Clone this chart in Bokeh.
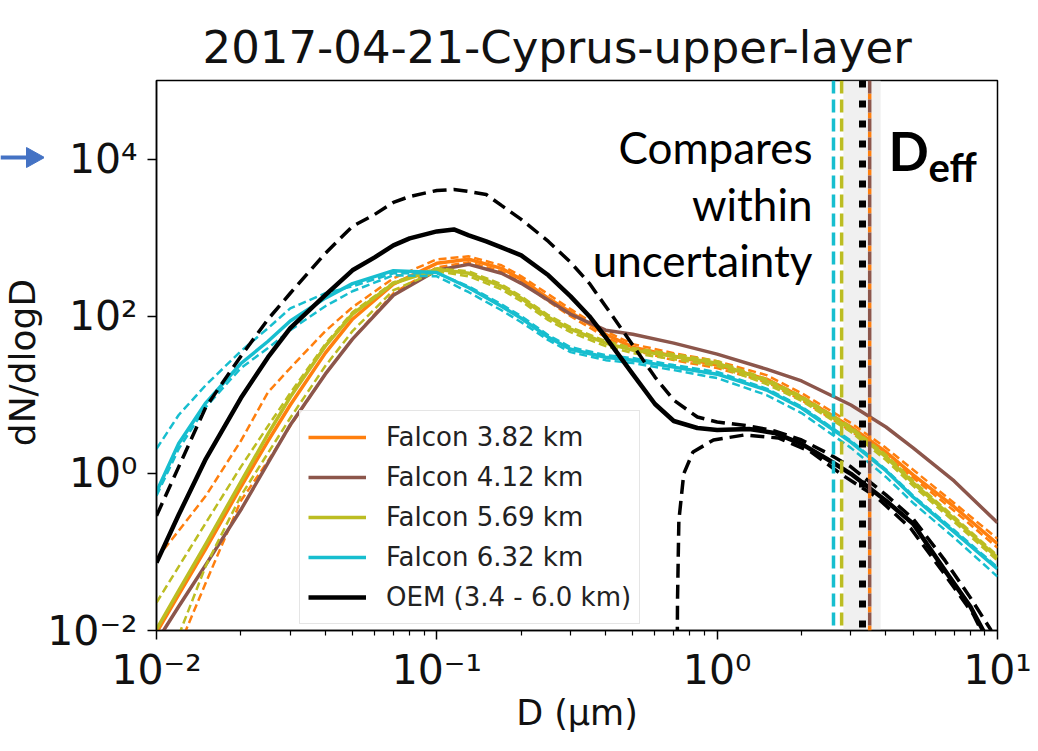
from math import pi
from bokeh.plotting import figure
from bokeh.layouts import row
from bokeh.models import (Range1d, FixedTicker, CustomJSTickFormatter, Label, Span,
                          BoxAnnotation, Legend, LegendItem, Title)
from bokeh.embed import file_html
from bokeh.resources import INLINE

# ---------------- data ----------------
D_falcon = [0.01, 0.012, 0.015, 0.02, 0.025, 0.03, 0.04, 0.05, 0.07, 0.1, 0.13, 0.17,
            0.2, 0.25, 0.3, 0.4, 0.5, 0.7, 1.0, 1.5, 2.0, 3.0, 4.0, 5.0, 7.0, 10.0]

orange_solid = [0.0094, 0.0286, 0.11, 0.675, 2.59, 7.41, 33.9, 91.6, 255, 471, 530, 407,
                295, 169, 112, 59.0, 40.4, 31.0, 23.9, 15.8, 9.36, 3.89, 1.87, 0.957, 0.376, 0.127]
orange_upper = [0.082, 0.186, 0.518, 2.59, 10.8, 21.9, 64.6, 130, 304, 530, 578, 445,
                322, 190, 123, 64.6, 44.1, 33.9, 26.8, 17.8, 10.5, 4.38, 2.11, 1.11, 0.42, 0.147]
orange_lower = [0.00129, 0.00608, 0.0407, 0.448, 1.44, 4.01, 18.3, 51.1, 196, 419, 485, 373,
                270, 155, 100, 54.1, 37.0, 27.6, 21.9, 14.5, 8.57, 3.47, 1.67, 0.877, 0.334, 0.113]

brown_solid = [0.0072, 0.0202, 0.0689, 0.344, 1.36, 4.13, 18.3, 51.1, 185, 384, 457, 352,
               262, 160, 106, 66.4, 59.0, 45.4, 32.9, 21.2, 15.0, 7.41, 3.89, 2.11, 0.80, 0.235]

olive_solid = [0.0103, 0.0322, 0.127, 0.78, 3.18, 9.36, 41.6, 106, 262, 395, 352, 240,
               169, 97, 68.4, 45.4, 37.0, 31.0, 25.3, 15.0, 9.1, 3.67, 1.62, 0.757, 0.264, 0.0845]
olive_upper = [0.0227, 0.065, 0.235, 1.21, 4.01, 10.5, 44.1, 112, 270, 407, 373, 255,
               179, 103, 72.5, 48.2, 39.3, 32.9, 26.8, 15.8, 9.64, 3.89, 1.72, 0.80, 0.281, 0.0895]
olive_lower = [0.00173, 0.00865, 0.0668, 0.518, 1.82, 5.07, 23.2, 64.6, 214, 373, 322, 220,
               155, 88.9, 62.7, 41.6, 33.9, 28.4, 23.2, 13.7, 8.34, 3.37, 1.48, 0.693, 0.242, 0.0775]

cyan_solid = [0.58, 2.4, 7.9, 25, 48, 87, 170, 260, 380, 360, 230, 134,
              94, 54, 38, 30, 27.6, 22.5, 18.3, 11.5, 6.8, 2.5, 1.08, 0.50, 0.18, 0.061]
cyan_upper = [2.05, 5.53, 13.3, 36.0, 70.5, 126, 196, 240, 352, 352, 240, 142,
              100, 57.4, 40.4, 32.0, 29.3, 23.9, 19.5, 12.0, 7.1, 2.6, 1.12, 0.52, 0.19, 0.064]
cyan_lower = [0.52, 2.05, 6.99, 21.9, 39.3, 66.4, 134, 208, 332, 322, 202, 119,
              83.9, 49.5, 34.9, 27.6, 25.3, 20.6, 16.3, 9.93, 5.86, 2.11, 0.90, 0.42, 0.152, 0.0485]

D_oem = [0.01, 0.012, 0.015, 0.02, 0.025, 0.03, 0.04, 0.05, 0.06, 0.07, 0.08, 0.1, 0.115,
         0.13, 0.15, 0.17, 0.2, 0.25, 0.3, 0.35, 0.4, 0.5, 0.6, 0.7, 0.85, 1.0, 1.3, 1.6,
         2.0, 2.5, 3.0, 4.0, 5.0, 6.5, 8.0, 9.5]
oem_solid = [0.073, 0.297, 1.53, 9.1, 30.1, 70.5, 185, 384, 561, 798, 977, 1200, 1273,
             1069, 895, 752, 595, 332, 179, 100, 54.1, 18.3, 7.63, 4.64, 3.78, 3.57, 3.67,
             3.27, 2.37, 1.48, 0.987, 0.448, 0.229, 0.0578, 0.0202, 0.0064]
oem_upper = [0.288, 1.21, 6.99, 31.0, 91.6, 196, 631, 1390, 1973, 2805, 3342, 3981, 4102,
             3864, 3540, 2570, 1706, 895, 485, 262, 134, 42.8, 16.8, 8.57, 5.21, 4.51, 4.01,
             3.47, 2.66, 1.77, 1.21, 0.533, 0.264, 0.0775, 0.0262, 0.01]
D_oem_lower = [0.72, 0.722, 0.73, 0.76, 0.82, 0.97, 1.25, 1.65, 2.15, 2.8, 3.7, 4.9, 6.4, 8.2, 9.5]
oem_lower = [0.004, 0.024, 0.25, 0.99, 1.87, 2.66, 3.08, 2.82, 1.9, 0.95, 0.50, 0.20,
             0.055, 0.016, 0.0055]

# effective diameters (µm) and OEM uncertainty band
deff_names = ["Falcon 6.32 km", "Falcon 5.69 km", "OEM", "Falcon 3.82 km", "Falcon 4.12 km"]
deff_values = [2.60, 2.78, 3.30, 3.50, 3.50]
deff_band = [2.82, 3.83]

legend_labels = ["Falcon 3.82 km", "Falcon 4.12 km", "Falcon 5.69 km", "Falcon 6.32 km",
                 "OEM (3.4 - 6.0 km)"]
x_major = [0.01, 0.1, 1, 10]
x_minor = [k * d for d in (0.01, 0.1, 1) for k in range(2, 10)]
y_major = [0.01, 1, 100, 1e4]

ORANGE, BROWN, OLIVE, CYAN, BLACK = "#ff7f0e", "#8c564b", "#bcbd22", "#17becf", "#000000"
ARROW_BLUE = "#4472C4"

W, H = 1038, 751
SIDE_W = 44
TOP, BOTTOM = 80, 121

# ---------------- main figure ----------------
p = figure(width=W - SIDE_W, height=H, x_axis_type="log", y_axis_type="log",
           x_range=Range1d(0.01, 10), y_range=Range1d(0.01, 1e5),
           min_border_left=156 - SIDE_W, min_border_right=41, min_border_top=TOP,
           min_border_bottom=BOTTOM, toolbar_location=None, output_backend="svg")
p.grid.visible = False
p.outline_line_color = "black"
p.outline_line_width = 1.5
p.outline_line_alpha = 1.0
p.background_fill_color = "white"
p.border_fill_color = "white"

# the default title panel (closest to the frame) is used as a small spacer
p.title.text = " "
p.title.text_font_size = "1px"
p.title.standoff = 10
# the real title, stacked above the spacer
p.add_layout(Title(text="2017-04-21-Cyprus-upper-layer", text_font="DejaVu Sans",
                   text_font_size="45px", text_font_style="normal", text_color="#111111",
                   align="left", offset=46, vertical_align="top", standoff=10), "above")

fmt = CustomJSTickFormatter(code="""
const e = Math.round(Math.log10(tick));
const sup = {'-':'\u207b','0':'\u2070','1':'\u00b9','2':'\u00b2','3':'\u00b3','4':'\u2074',
             '5':'\u2075','6':'\u2076','7':'\u2077','8':'\u2078','9':'\u2079'};
return '10' + String(e).split('').map(c => sup[c]).join('');
""")

p.xaxis.ticker = FixedTicker(ticks=x_major, minor_ticks=x_minor)
p.yaxis.ticker = FixedTicker(ticks=y_major, minor_ticks=[])
for ax in (p.xaxis[0], p.yaxis[0]):
    ax.formatter = fmt
    ax.major_label_text_font = "DejaVu Sans"
    ax.major_label_text_font_size = "41px"
    ax.major_label_text_color = "#111111"
    ax.axis_line_color = "black"
    ax.axis_line_width = 1.5
    ax.major_tick_line_color = "black"
    ax.major_tick_line_width = 1.5
    ax.minor_tick_line_color = "black"
    ax.minor_tick_line_width = 1.2
    ax.major_tick_out = 9
    ax.major_tick_in = 0
    ax.minor_tick_out = 5
    ax.minor_tick_in = 0
p.xaxis.major_label_standoff = 6
p.yaxis.major_label_standoff = 10

p.xaxis.axis_label = "D (µm)"
p.xaxis.axis_label_text_font = "DejaVu Sans"
p.xaxis.axis_label_text_font_size = "35px"
p.xaxis.axis_label_text_font_style = "normal"
p.xaxis.axis_label_text_color = "#111111"
p.xaxis.axis_label_standoff = -4

# uncertainty band for D_eff
p.add_layout(BoxAnnotation(left=deff_band[0], right=deff_band[1], fill_color="#e6e6e6",
                           fill_alpha=0.6, line_color=None, level="underlay"))

# ---------------- curves ----------------
DASH_C = "8 4"
def falcon(color, solid, upper=None, lower=None):
    if upper is not None:
        p.line(D_falcon, upper, line_color=color, line_width=2.5, line_dash=DASH_C)
    if lower is not None:
        p.line(D_falcon, lower, line_color=color, line_width=2.5, line_dash=DASH_C)
    return p.line(D_falcon, solid, line_color=color, line_width=3.5, line_join="round")

r_orange = falcon(ORANGE, orange_solid, orange_upper, orange_lower)
r_brown = falcon(BROWN, brown_solid)
r_olive = falcon(OLIVE, olive_solid, olive_upper, olive_lower)
r_cyan = falcon(CYAN, cyan_solid, cyan_upper, cyan_lower)

p.line(D_oem, oem_upper, line_color=BLACK, line_width=3.5, line_dash="14 7")
p.line(D_oem_lower, oem_lower, line_color=BLACK, line_width=3.5, line_dash="14 7")
r_oem = p.line(D_oem, oem_solid, line_color=BLACK, line_width=4.5, line_join="round")

# ---------------- D_eff vertical lines ----------------
span_style = {
    "Falcon 6.32 km": dict(line_color=CYAN, line_dash="13 6", line_width=3.5),
    "Falcon 5.69 km": dict(line_color=OLIVE, line_dash="13 6", line_width=3.5),
    "OEM": dict(line_color=BLACK, line_dash="7 13", line_width=7),
    "Falcon 3.82 km": dict(line_color=ORANGE, line_dash="6 13", line_dash_offset=6, line_width=3.5),
    "Falcon 4.12 km": dict(line_color=BROWN, line_dash="13 6", line_width=3.5),
}
for name, loc in zip(deff_names, deff_values):
    p.add_layout(Span(location=loc, dimension="height", **span_style[name]))

# ---------------- legend ----------------
legend = Legend(items=[LegendItem(label=l, renderers=[r]) for l, r in
                       zip(legend_labels, [r_orange, r_brown, r_olive, r_cyan, r_oem])],
                location=(143, 6), label_text_font="DejaVu Sans", label_text_font_size="26px",
                label_text_color="#222222", glyph_width=58, glyph_height=36, label_height=36,
                spacing=4, padding=8, label_standoff=20, border_line_color="#cccccc",
                border_line_width=1.5, background_fill_color="white",
                background_fill_alpha=0.85, margin=0)
p.add_layout(legend)

# ---------------- text annotations inside the frame ----------------
def lab(fig, **kw):
    base = dict(x_units="screen", y_units="screen", text_color="black")
    base.update(kw)
    fig.add_layout(Label(**base))

for txt, yy in (("Compares", 484), ("within", 427), ("uncertainty", 371)):
    lab(p, x=656, y=yy, text=txt, text_align="right", text_baseline="alphabetic",
        text_font="Lato", text_font_size="44px")
lab(p, x=732, y=480, text="D", text_align="left", text_baseline="alphabetic",
    text_font="Lato", text_font_style="bold", text_font_size="53px")
lab(p, x=772, y=464, text="eff", text_align="left", text_baseline="alphabetic",
    text_font="Lato", text_font_style="bold", text_font_size="40px")

# ---------------- left strip: y-axis label and blue arrow ----------------
# its frame spans the same rows as the main frame; y is counted in page pixels from the bottom
side = figure(width=SIDE_W, height=H, x_range=Range1d(0, SIDE_W),
              y_range=Range1d(BOTTOM, H - TOP),
              x_axis_location=None, y_axis_location=None, toolbar_location=None,
              output_backend="svg", min_border=0, min_border_left=0, min_border_right=0,
              min_border_top=TOP, min_border_bottom=BOTTOM)
side.grid.visible = False
side.outline_line_color = None
side.background_fill_color = "white"
side.border_fill_color = "white"

side.add_layout(Label(x=SIDE_W / 2, y=H - 362, text="dN/dlogD", angle=pi / 2,
                      text_align="center", text_baseline="middle", text_font="DejaVu Sans",
                      text_font_size="36px", text_color="#111111"))
arrow_y = H - 157
side.line([0, SIDE_W - 15], [arrow_y, arrow_y], line_color=ARROW_BLUE, line_width=4)
side.patch([SIDE_W - 18, SIDE_W - 18, SIDE_W], [arrow_y + 10, arrow_y - 10, arrow_y],
           fill_color=ARROW_BLUE, line_color=ARROW_BLUE)

layout = row(side, p, spacing=0)

with open("out.html", "w", encoding="utf-8") as f:
    f.write(file_html(layout, INLINE))
